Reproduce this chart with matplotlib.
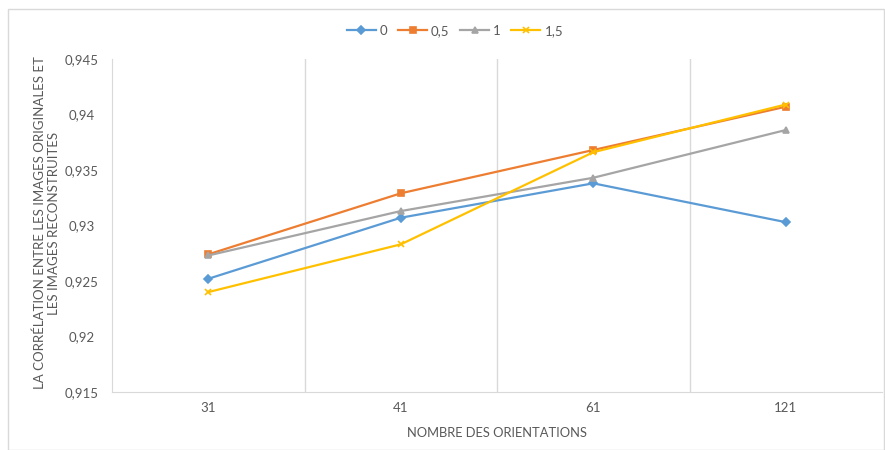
import matplotlib
matplotlib.use('Agg')
from matplotlib import pyplot as plt
from matplotlib.patches import Rectangle

# Données
orientations = ['31', '41', '61', '121']
series_labels = ['0', '0,5', '1', '1,5']
corr_0 = [0.9252, 0.9307, 0.9338, 0.9303]
corr_05 = [0.9274, 0.9329, 0.9368, 0.9407]
corr_1 = [0.9273, 0.9313, 0.9343, 0.9386]
corr_15 = [0.9240, 0.9283, 0.9366, 0.9409]
y_ticks = [0.915, 0.92, 0.925, 0.93, 0.935, 0.94, 0.945]

colors = ['#5B9BD5', '#ED7D31', '#A5A5A5', '#FFC000']
markers = ['D', 's', '^', 'x']
msizes = [4, 5, 5, 4]

plt.rcParams['font.family'] = ['Lato', 'DejaVu Sans']
text_color = '#595959'
grid_color = '#D9D9D9'

fig = plt.figure(figsize=(8.85, 4.5), dpi=100)
ax = fig.add_axes([112 / 885, 1 - 392 / 450, 770 / 885, 333 / 450])

x = range(len(orientations))
for vals, lab, c, m, ms in zip([corr_0, corr_05, corr_1, corr_15], series_labels,
                               colors, markers, msizes):
    ax.plot(x, vals, color=c, marker=m, markersize=ms, linewidth=1.6,
            markeredgewidth=1.2, label=lab)

ax.set_xlim(-0.5, len(orientations) - 0.5)
ax.set_ylim(0.915, 0.945)
ax.set_yticks(y_ticks)
ax.set_yticklabels([('%g' % v).replace('.', ',') for v in y_ticks])
ax.set_xticks(list(x))
ax.set_xticklabels(orientations)
ax.set_xticks([i + 0.5 for i in range(len(orientations) - 1)], minor=True)
ax.grid(True, which='minor', axis='x', color=grid_color, linewidth=1)
ax.tick_params(which='both', length=0, colors=text_color, labelsize=9.5)
ax.tick_params(axis='y', pad=22)
ax.tick_params(axis='x', pad=7)
for lbl in ax.get_yticklabels():
    lbl.set_horizontalalignment('center')

for s in ['top', 'right']:
    ax.spines[s].set_visible(False)
ax.spines['left'].set_color(grid_color)
ax.spines['bottom'].set_color(grid_color)

fig.text(497 / 885, 1 - 433 / 450, 'NOMBRE DES ORIENTATIONS', ha='center',
         va='center', fontsize=9.3, color=text_color)
fig.text(47 / 885, 1 - 223 / 450,
         'LA CORRÉLATION ENTRE LES IMAGES ORIGINALES ET\nLES IMAGES RECONSTRUITES',
         ha='center', va='center', rotation=90, fontsize=9.5, color=text_color,
         linespacing=1.25)

fig.legend(loc='center', bbox_to_anchor=(455 / 885, 1 - 31 / 450), ncol=4,
           frameon=False, fontsize=9.5, labelcolor=text_color, handlelength=2.2,
           handletextpad=0.3, columnspacing=0.8)

# cadre du graphique
fig.patches.append(Rectangle((8 / 885, 0), 876 / 885, 1 - 9 / 450,
                             transform=fig.transFigure, fill=False,
                             edgecolor=grid_color, linewidth=1))

plt.savefig('out.png', dpi=100)
plt.close()
